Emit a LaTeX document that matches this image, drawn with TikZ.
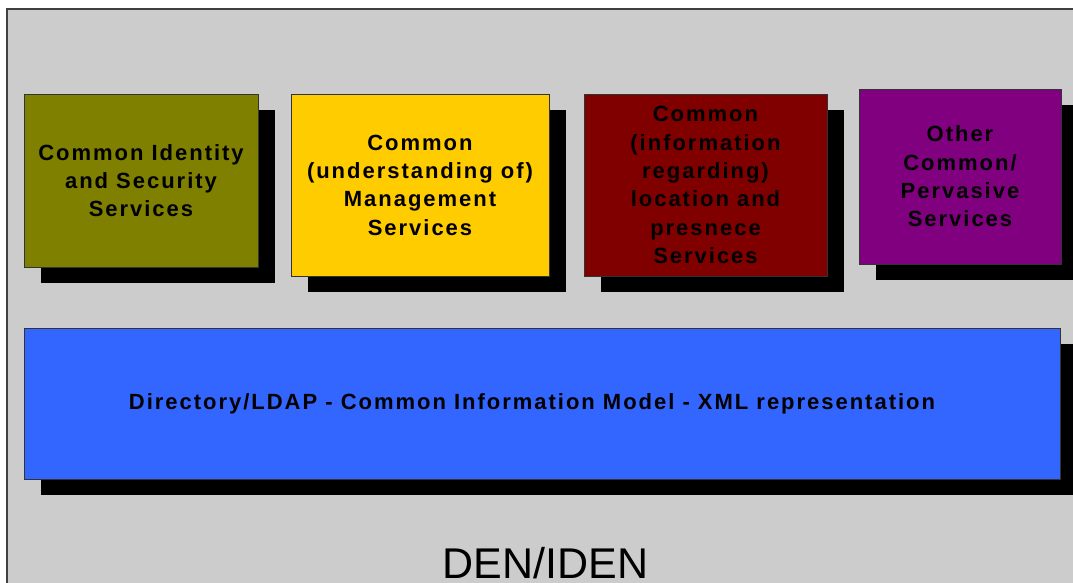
\documentclass[tikz,border=0pt]{standalone}
\usepackage{fontspec}
\setmainfont{Liberation Sans}
\newfontfamily\boxfont{Liberation Sans}[LetterSpace=9]
\usetikzlibrary{shadows}
\definecolor{bgray}{HTML}{CCCCCC}
\definecolor{olivec}{HTML}{808000}
\definecolor{yellowc}{HTML}{FFCC00}
\definecolor{redc}{HTML}{800000}
\definecolor{purplec}{HTML}{800080}
\definecolor{bluec}{HTML}{3366FF}
\definecolor{edgec}{HTML}{333333}
\begin{document}
\begin{tikzpicture}[x=1pt,y=-1pt,
  svc/.style={draw=edgec, line width=0.8pt, inner sep=0pt, align=center,
    font=\boxfont\bfseries\fontsize{22}{28.3}\selectfont,
    drop shadow={shadow xshift=17pt, shadow yshift=-16pt, opacity=1, fill=black, draw=none}},
  title/.style={font=\fontsize{43}{48}\selectfont, inner sep=0pt, text depth=0pt}
]
\useasboundingbox (0,0) rectangle (1073,583);
\clip (0,0) rectangle (1073,583);
\fill[white] (0,0) rectangle (1073,583);
\draw[fill=bgray, draw=black!75, line width=1.2pt] (7,9) rectangle (1100,610);

\node[svc, fill=olivec, minimum width=234pt, minimum height=173pt] (b1) at (141,180.5)
  {Common Identity\\and Security\\Services};
\node[svc, fill=yellowc, minimum width=258pt, minimum height=182pt] (b2) at (420,185)
  {Common\\(understanding of)\\Management\\Services};
\node[svc, fill=redc, minimum width=243pt, minimum height=182pt] (b3) at (705.5,185)
  {Common\\(information\\regarding)\\location and\\presnece\\Services};
\node[svc, fill=purplec, minimum width=202pt, minimum height=175pt] (b4) at (960,176.5)
  {Other\\Common/\\Pervasive\\Services};
\node[svc, fill=bluec, minimum width=1036pt, minimum height=151pt] (base) at (542,403.5)
  {Directory/LDAP - Common Information Model - XML representation\hspace*{20pt}};
\node[title, anchor=base] (den) at (545.5,578) {DEN/IDEN};
\end{tikzpicture}
\end{document}
